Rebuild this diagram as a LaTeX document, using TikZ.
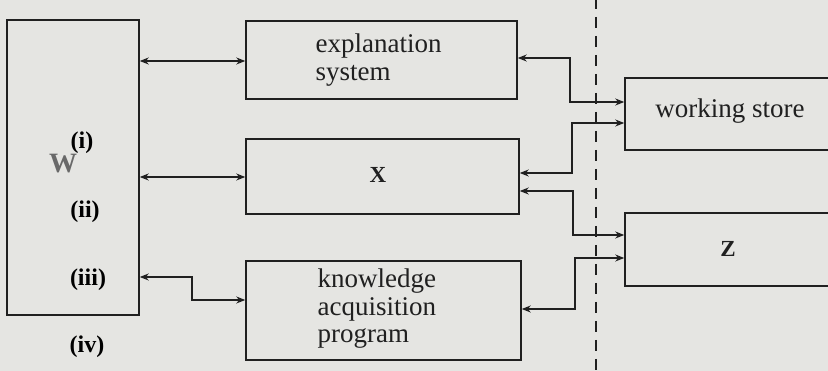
\documentclass[tikz,border=0pt]{standalone}
\usepackage{fontspec}
\setmainfont{Liberation Serif}
\usetikzlibrary{arrows.meta}
\definecolor{paper}{RGB}{229,229,226}
\definecolor{ink}{RGB}{32,32,32}
\definecolor{faded}{RGB}{105,105,105}
\tikzset{
  box/.style={draw=ink, line width=1.5pt, rectangle, inner sep=0pt},
  boxtext/.style={font=\fontsize{27}{27.5}\selectfont, text=ink, align=left},
  link/.style={draw=ink, line width=1.4pt, {Stealth[length=9pt,width=7pt]}-{Stealth[length=9pt,width=7pt]}},
  tag/.style={font=\fontsize{24}{24}\selectfont\bfseries, text=black, inner sep=0pt},
  divider/.style={draw=ink, line width=2pt, dash pattern=on 11pt off 8pt}
}
\begin{document}
\begin{tikzpicture}[x=1pt,y=1pt]
  \useasboundingbox (0,0) rectangle (828,-371);
  \fill[paper] (0,0) rectangle (828,-371);
  \clip (0,0) rectangle (828,-371);

  % dashed boundary
  \coordinate (dtop) at (596,2);
  \coordinate (dbot) at (596,-373);
  \draw[divider] (dtop) -- (dbot);

  % left block
  \node[box, minimum width=132, minimum height=295] (W) at (73,-167.5) {};
  \node[font=\fontsize{28}{28}\selectfont\bfseries, text=faded, inner sep=0pt] (Wlab) at (63,-164) {W};

  % middle column
  \node[box, minimum width=271, minimum height=78] (expl) at (381.5,-60) {};
  \node[boxtext, anchor=west] (expltxt) at (312,-60) {explanation\\system};
  \node[box, minimum width=273, minimum height=75] (X) at (382.5,-176.5) {};
  \node[font=\fontsize{23}{23}\selectfont\bfseries, text=ink, inner sep=0pt] (Xlab) at (378,-175) {X};
  \node[box, minimum width=275, minimum height=99] (K) at (383.5,-310.5) {};
  \node[boxtext, anchor=west] (Ktxt) at (314,-309) {knowledge\\acquisition\\program};

  % right column
  \node[box, minimum width=210, minimum height=72] (ws) at (730,-114) {};
  \node[boxtext] (wstxt) at (730,-111) {working store};
  \node[box, minimum width=210, minimum height=73] (Z) at (730,-249.5) {};
  \node[font=\fontsize{23}{23}\selectfont\bfseries, text=ink, inner sep=0pt] (Zlab) at (728,-249) {Z};

  % option labels
  \node[tag] (t1) at (82,-143) {(i)};
  \node[tag] (t2) at (85,-212) {(ii)};
  \node[tag] (t3) at (88,-280) {(iii)};
  \node[tag] (t4) at (87,-347) {(iv)};

  % left connectors
  \coordinate (e1) at ([yshift=-1pt]expl.west);
  \coordinate (x1) at ([yshift=-0.5pt]X.west);
  \draw[link] (W.east |- e1) -- (e1);
  \draw[link] (W.east |- x1) -- (x1);
  \coordinate (kin) at ([yshift=10.5pt]K.west);
  \coordinate (wout) at ([yshift=-109.5pt]W.east);
  \coordinate (kbend) at (192,0);
  \draw[link] (wout) -- (wout -| kbend) |- (kin);

  % right connectors
  \coordinate (c1) at (570,0);
  \coordinate (c2) at (572,0);
  \coordinate (c3) at (573,0);
  \coordinate (c4) at (575,0);
  \coordinate (a1) at ([yshift=2pt]expl.east);
  \coordinate (a2) at ([yshift=-9pt]ws.west);
  \coordinate (a3) at ([yshift=-14.5pt]X.east);
  \coordinate (a4) at ([yshift=-8.5pt]Z.west);
  \draw[link] (a1) -- (a1 -| c1) |- ([yshift=12pt]ws.west);
  \draw[link] (a2) -- (a2 -| c2) |- ([yshift=3.5pt]X.east);
  \draw[link] (a3) -- (a3 -| c3) |- ([yshift=14.5pt]Z.west);
  \draw[link] (a4) -- (a4 -| c4) |- ([yshift=1.5pt]K.east);
\end{tikzpicture}
\end{document}
